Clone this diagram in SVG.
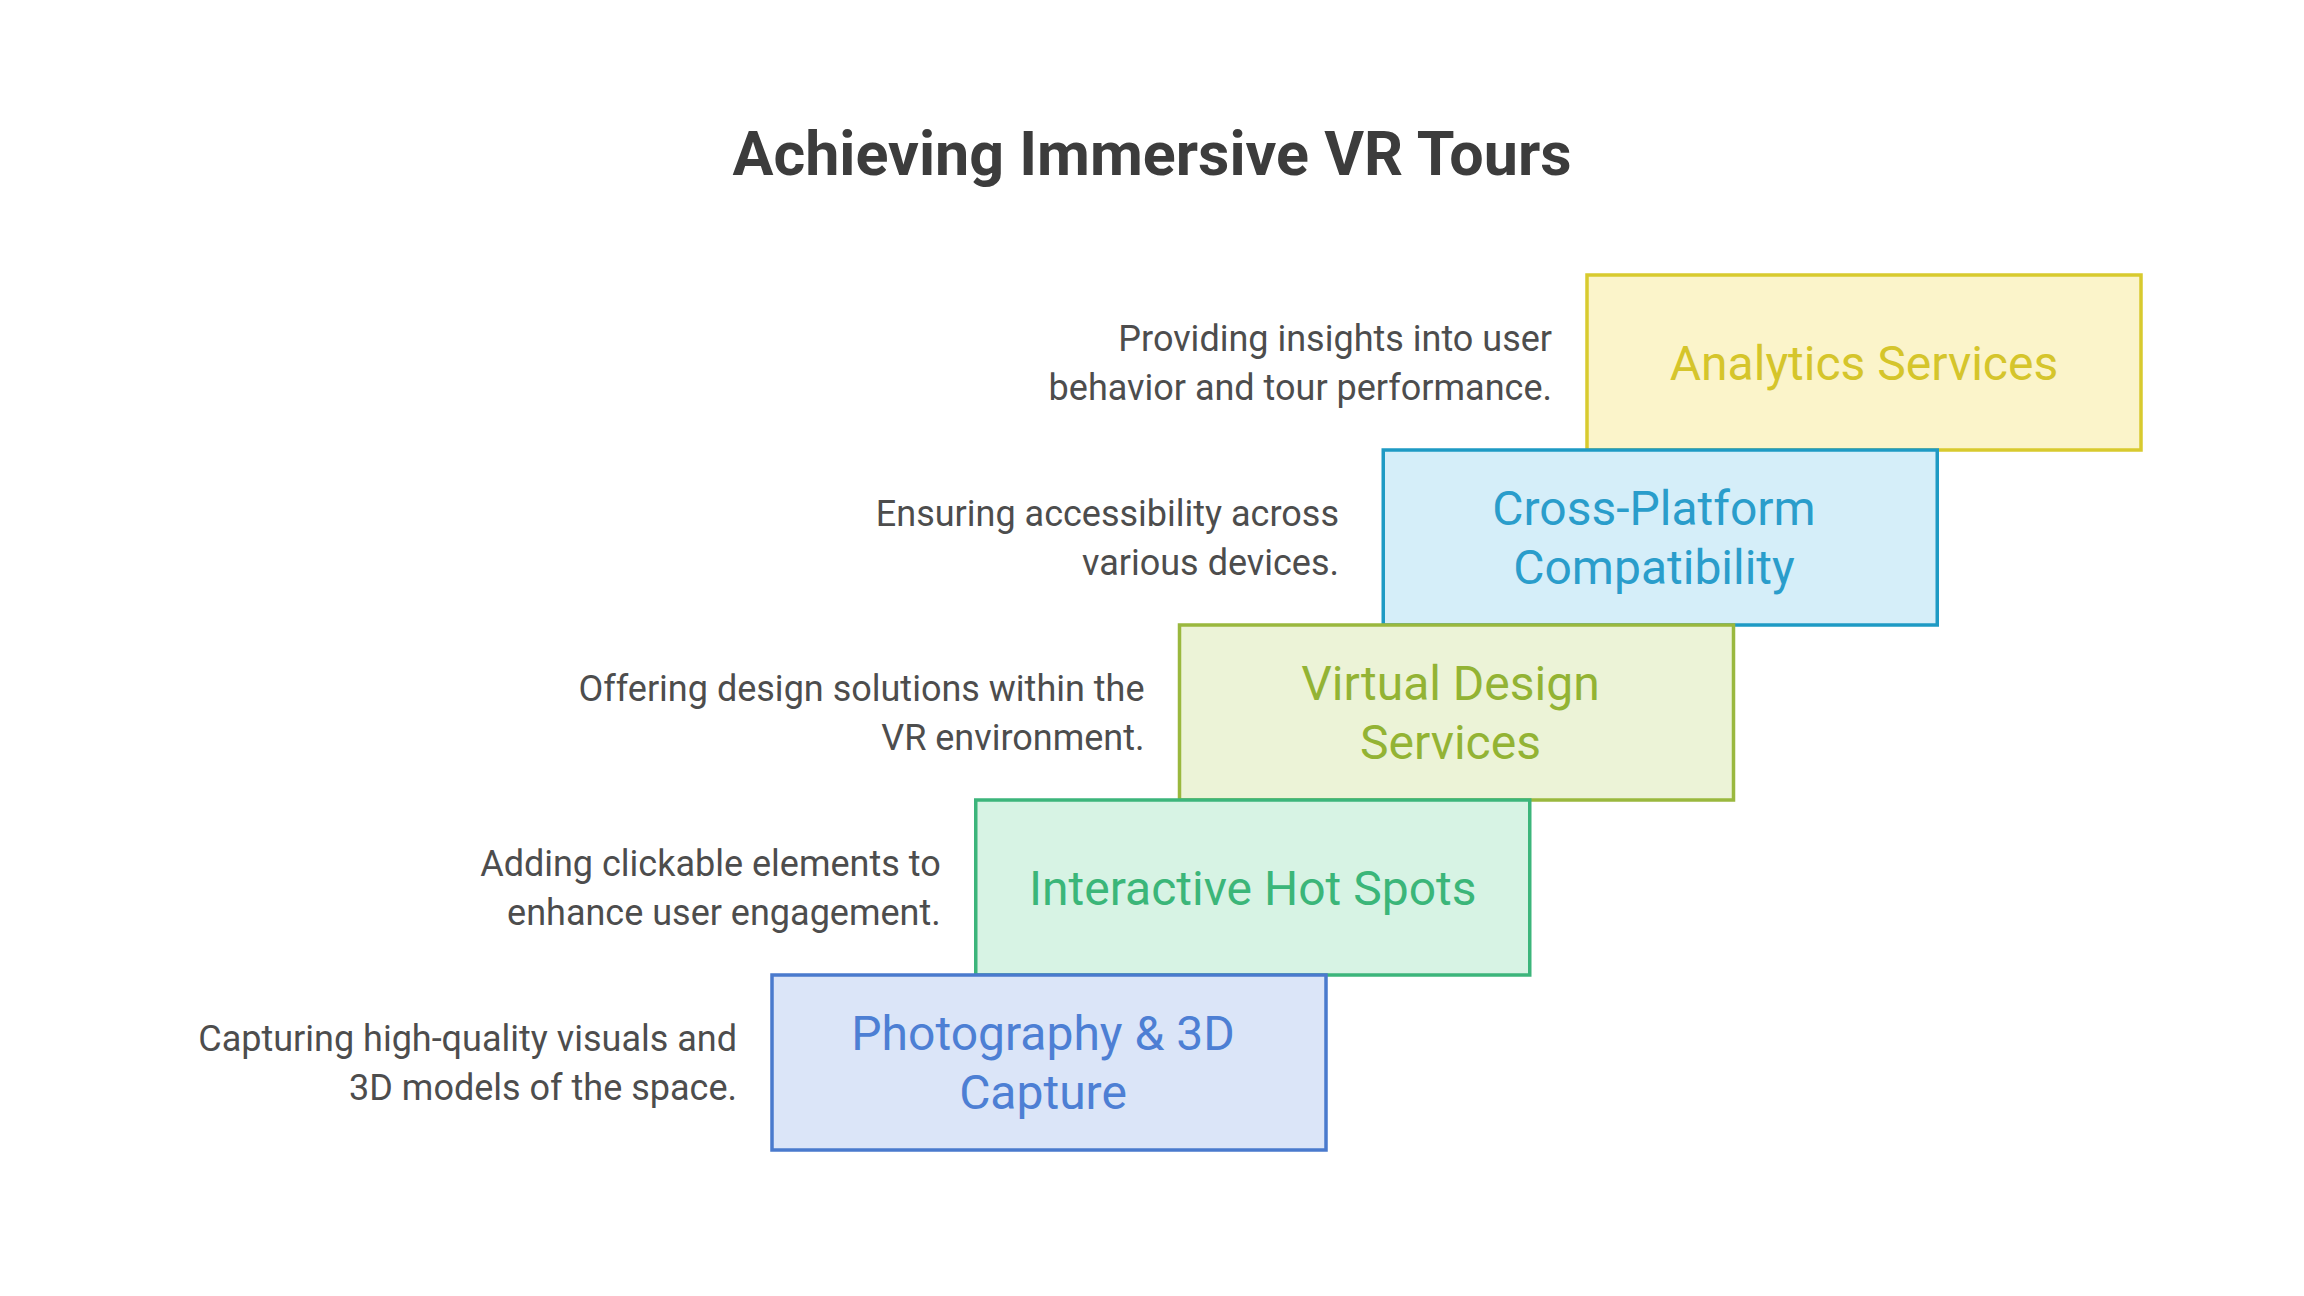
<svg xmlns="http://www.w3.org/2000/svg" width="2304" height="1296" viewBox="0 0 2304 1296">
<style>
.title{font-family:Roboto,"Liberation Sans",sans-serif;font-weight:700;font-size:61px;fill:#3c3c3c;text-anchor:middle}
.lbl{font-family:Roboto,"Liberation Sans",sans-serif;font-size:48px;text-anchor:middle}
.desc{font-family:Roboto,"Liberation Sans",sans-serif;font-size:36px;fill:#4d4d4d;text-anchor:end}
.box{stroke-width:3.5}
</style>
<rect width="2304" height="1296" fill="#ffffff"/>
<text class="title" x="1152" y="175">Achieving Immersive VR Tours</text>
<g id="analytics">
<rect class="box" x="1587" y="275" width="554" height="175" fill="#FBF4CA" stroke="#D8CA2E"/>
<text class="lbl" x="1864" y="379.5" fill="#D5C52B">Analytics Services</text>
<text class="desc" x="1552" y="351">Providing insights into user</text>
<text class="desc" x="1552" y="400">behavior and tour performance.</text>
</g>
<g id="cross-platform">
<rect class="box" x="1383.25" y="450" width="554" height="175" fill="#D5EEF9" stroke="#1E9AC4"/>
<text class="lbl" x="1654" y="525" fill="#2A9DCB">Cross-Platform</text>
<text class="lbl" x="1654" y="584" fill="#2A9DCB">Compatibility</text>
<text class="desc" x="1339" y="526">Ensuring accessibility across</text>
<text class="desc" x="1339" y="575">various devices.</text>
</g>
<g id="virtual-design">
<rect class="box" x="1179.5" y="625" width="554" height="175" fill="#ECF3D7" stroke="#9AB83E"/>
<text class="lbl" x="1450.5" y="700" fill="#93B334">Virtual Design</text>
<text class="lbl" x="1450.5" y="759" fill="#93B334">Services</text>
<text class="desc" x="1144.5" y="701">Offering design solutions within the</text>
<text class="desc" x="1144.5" y="750">VR environment.</text>
</g>
<g id="interactive-hot-spots">
<rect class="box" x="975.75" y="800" width="554" height="175" fill="#D7F3E4" stroke="#3CB57B"/>
<text class="lbl" x="1252.75" y="904.5" fill="#3BB679">Interactive Hot Spots</text>
<text class="desc" x="940.75" y="876">Adding clickable elements to</text>
<text class="desc" x="940.75" y="925">enhance user engagement.</text>
</g>
<g id="photography-3d-capture">
<rect class="box" x="772" y="975" width="554" height="175" fill="#DBE5F8" stroke="#4A7ACD"/>
<text class="lbl" x="1043" y="1050" fill="#4D7FD4">Photography &amp; 3D</text>
<text class="lbl" x="1043" y="1109" fill="#4D7FD4">Capture</text>
<text class="desc" x="737" y="1051">Capturing high-quality visuals and</text>
<text class="desc" x="737" y="1100">3D models of the space.</text>
</g>
<g id="connectors"></g>
</svg>
